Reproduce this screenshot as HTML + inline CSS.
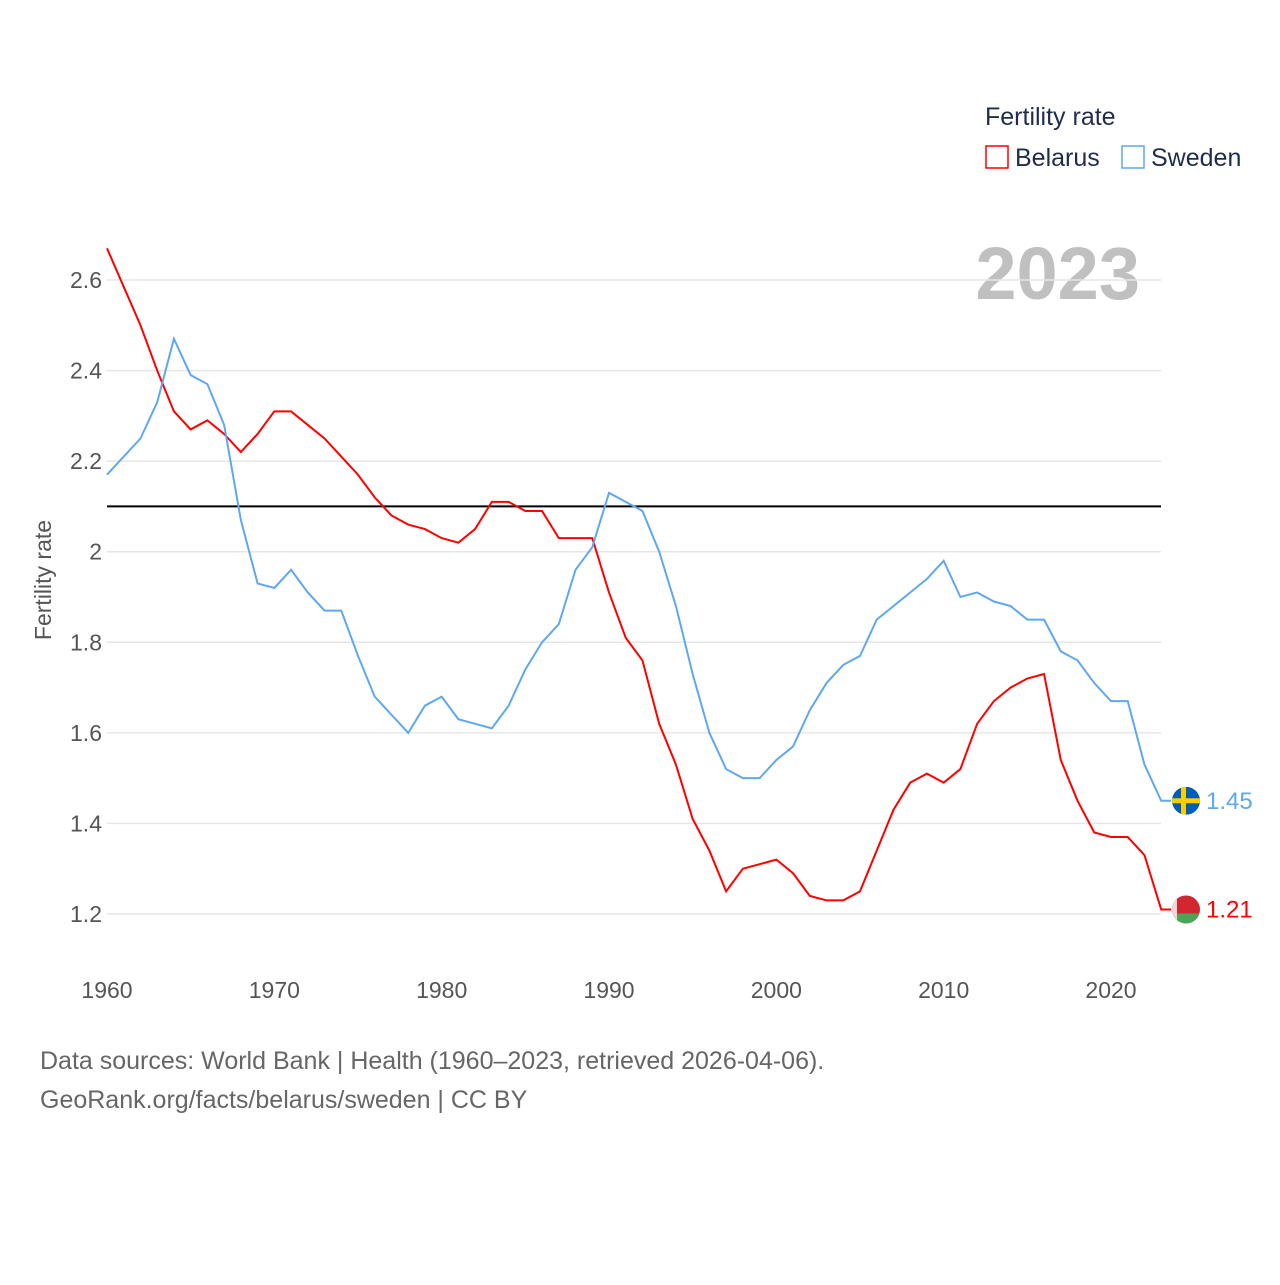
<!DOCTYPE html>
<html><head><meta charset="utf-8"><style>
body{margin:0;background:#fff;font-family:"Liberation Sans",sans-serif}
</style></head><body>
<svg id="c" width="1280" height="1280" xmlns="http://www.w3.org/2000/svg" style="font-family:'Liberation Sans',sans-serif">
<defs><clipPath id="fb"><circle id="fbc" cx="1186" cy="909" r="14"/></clipPath><clipPath id="fs"><circle id="fsc" cx="1186" cy="800" r="14"/></clipPath></defs>
<text x="985" y="125" font-size="25" fill="#1f2d4a">Fertility rate</text>
<rect x="986" y="146" width="22" height="22" fill="none" stroke="#f00" stroke-width="1.5"/>
<text x="1015" y="166" font-size="25" fill="#1f2d4a">Belarus</text>
<rect x="1122" y="146" width="22" height="22" fill="none" stroke="#5fa8ee" stroke-width="1.5"/>
<text x="1151" y="166" font-size="25" fill="#1f2d4a">Sweden</text>
<text x="1140" y="299" font-size="74" font-weight="bold" fill="#c0c0c0" text-anchor="end">2023</text>
<text transform="translate(51,580) rotate(-90)" font-size="23" fill="#555" text-anchor="middle">Fertility rate</text>
<g id="grid"></g><g id="ticks"></g><g id="lines"></g>
<text x="40" y="1069" font-size="25" fill="#666">Data sources: World Bank | Health (1960–2023, retrieved 2026-04-06).</text>
<text x="40" y="1108" font-size="25" fill="#666">GeoRank.org/facts/belarus/sweden | CC BY</text>
</svg>
<script>
const years=[];for(let y=1960;y<=2023;y++)years.push(y);
const belarus=[2.67,2.585,2.50,2.40,2.31,2.27,2.29,2.26,2.22,2.26,2.31,2.31,2.28,2.25,2.21,2.17,2.12,2.08,2.06,2.05,2.03,2.02,2.05,2.11,2.11,2.09,2.09,2.03,2.03,2.03,1.91,1.81,1.76,1.62,1.53,1.41,1.34,1.25,1.30,1.31,1.32,1.29,1.24,1.23,1.23,1.25,1.34,1.43,1.49,1.51,1.49,1.52,1.62,1.67,1.70,1.72,1.73,1.54,1.45,1.38,1.37,1.37,1.33,1.21];
const sweden=[2.17,2.21,2.25,2.33,2.47,2.39,2.37,2.28,2.07,1.93,1.92,1.96,1.91,1.87,1.87,1.77,1.68,1.64,1.60,1.66,1.68,1.63,1.62,1.61,1.66,1.74,1.80,1.84,1.96,2.01,2.13,2.11,2.09,2.00,1.88,1.73,1.60,1.52,1.50,1.50,1.54,1.57,1.65,1.71,1.75,1.77,1.85,1.88,1.91,1.94,1.98,1.90,1.91,1.89,1.88,1.85,1.85,1.78,1.76,1.71,1.67,1.67,1.53,1.45];
const yTicks=[1.2,1.4,1.6,1.8,2,2.2,2.4,2.6];
const xTicks=[1960,1970,1980,1990,2000,2010,2020];
const refValue=2.1;
const X=y=>107+(y-1960)*(1004/60);
const Y=v=>914-(v-1.2)*452.86;
const NS="http://www.w3.org/2000/svg";
function mk(t,a,p){const e=document.createElementNS(NS,t);for(const k in a)e.setAttribute(k,a[k]);p.appendChild(e);return e;}
const grid=document.getElementById('grid'),ticks=document.getElementById('ticks'),lines=document.getElementById('lines');
yTicks.forEach(v=>{
 const l=mk('line',{x1:107,x2:1161,y1:Y(v),y2:Y(v),stroke:'#e6e6e6','stroke-width':1.5},grid);
 
 
 const t=mk('text',{x:102,y:Y(v)+8,'font-size':23,fill:'#555','text-anchor':'end'},ticks);
 t.textContent=String(v);
 
 
});
xTicks.forEach(v=>{
 const t=mk('text',{x:X(v),y:998,'font-size':23,fill:'#555','text-anchor':'middle'},ticks);
 t.textContent=String(v);
 
 
});
const rl=mk('line',{x1:107,x2:1161,y1:Y(refValue),y2:Y(refValue),stroke:'#000','stroke-width':2},lines);


function series(vals,col,name){
 const pts=vals.map((v,i)=>X(years[i])+','+Y(v));
 const last=vals[vals.length-1];
 pts.push((X(2023)+10)+','+Y(last));
 const p=mk('polyline',{points:pts.join(' '),fill:'none',stroke:col,'stroke-width':2},lines);
 
 
 return {cx:1186,cy:Y(last),last};
}
const b=series(belarus,'#f00','belarus');
const s=series(sweden,'#5fa8ee','sweden');
document.getElementById('fbc').setAttribute('cy',b.cy);
document.getElementById('fsc').setAttribute('cy',s.cy);
const gb=mk('g',{'clip-path':'url(#fb)'},lines);


mk('rect',{x:b.cx-14,y:b.cy-14,width:28,height:28,fill:'#d22730'},gb);
mk('rect',{x:b.cx-14,y:b.cy+4,width:28,height:10,fill:'#4aa657'},gb);
mk('rect',{x:b.cx-14,y:b.cy-14,width:5,height:28,fill:'#f3d6d6'},gb);
const gs=mk('g',{'clip-path':'url(#fs)'},lines);


mk('rect',{x:s.cx-14,y:s.cy-14,width:28,height:28,fill:'#005bbb'},gs);
mk('rect',{x:s.cx-14,y:s.cy-2.5,width:28,height:5,fill:'#fecc02'},gs);
mk('rect',{x:s.cx-5,y:s.cy-14,width:5,height:28,fill:'#fecc02'},gs);
[[b,'#f00','belarus'],[s,'#5fa8ee','sweden']].forEach(([o,col,n])=>{
 const t=mk('text',{x:1206,y:o.cy+8,'font-size':24,fill:col},lines);
 t.textContent=o.last.toFixed(2);
 
 
});
</script>
</body></html>
